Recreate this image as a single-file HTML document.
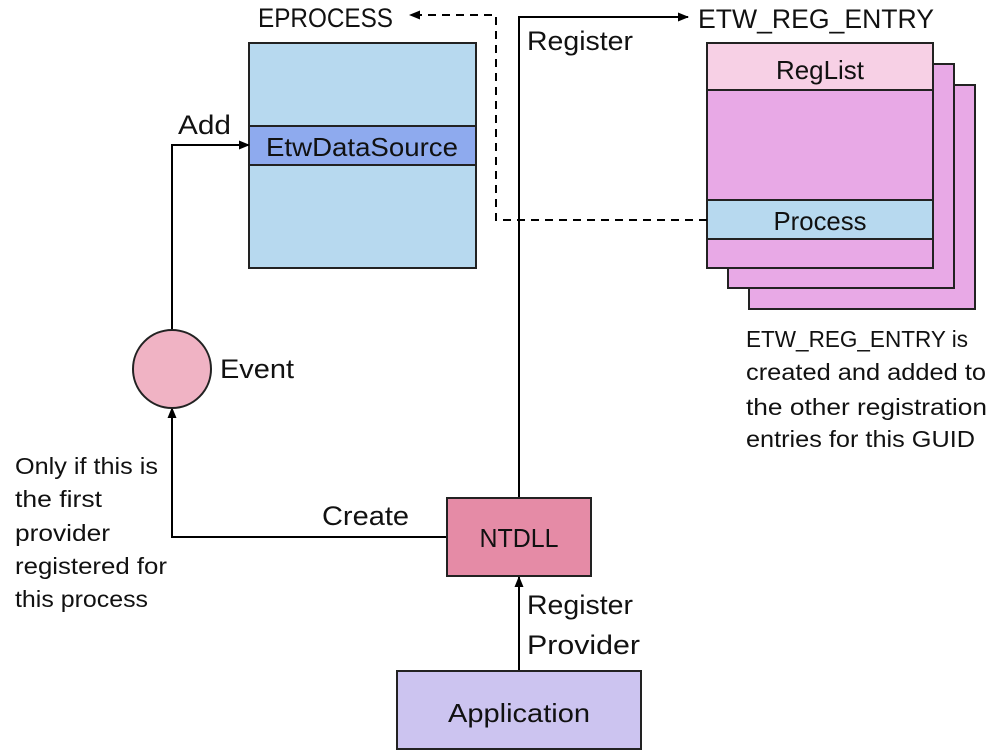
<!DOCTYPE html>
<html><head><meta charset="utf-8"><style>
html,body{margin:0;padding:0;background:#fff;}
svg{display:block;}
text{font-family:"Liberation Sans",sans-serif;fill:#111;}
</style></head><body>
<svg width="1002" height="753" viewBox="0 0 1002 753" xmlns="http://www.w3.org/2000/svg">
<defs>
<marker id="ah" markerWidth="11" markerHeight="9" refX="10" refY="4.5" orient="auto" markerUnits="userSpaceOnUse">
<path d="M0,0 L11,4.5 L0,9 z" fill="#000"/></marker>
</defs>
<rect x="749" y="85" width="226" height="224" fill="#e8a9e6" stroke="#222" stroke-width="2"/>
<rect x="728" y="64" width="226" height="224" fill="#e8a9e6" stroke="#222" stroke-width="2"/>
<rect x="707" y="43" width="226" height="225" fill="#e8a9e6" stroke="#222" stroke-width="2"/>
<rect x="707" y="43" width="226" height="47" fill="#f7d0e5" stroke="#222" stroke-width="2"/>
<rect x="707" y="200" width="226" height="39" fill="#b7d9ef" stroke="#222" stroke-width="2"/>
<text x="820" y="79" font-size="26" text-anchor="middle" textLength="88" lengthAdjust="spacingAndGlyphs">RegList</text>
<text x="820" y="230" font-size="26" text-anchor="middle" textLength="93" lengthAdjust="spacingAndGlyphs">Process</text>
<rect x="249" y="43" width="227" height="225" fill="#b7d9ef" stroke="#222" stroke-width="2"/>
<rect x="249" y="126" width="227" height="39" fill="#8eaaee" stroke="#222" stroke-width="2"/>
<text x="362" y="156" font-size="26" text-anchor="middle" textLength="192" lengthAdjust="spacingAndGlyphs">EtwDataSource</text>
<path d="M707,220 H496 V15 H410" fill="none" stroke="#000" stroke-width="2" stroke-dasharray="8,6" marker-end="url(#ah)"/>
<path d="M519,497 V17 H688" fill="none" stroke="#000" stroke-width="2" marker-end="url(#ah)"/>
<path d="M172,330 V145 H249" fill="none" stroke="#000" stroke-width="2" marker-end="url(#ah)"/>
<path d="M447,537 H172 V408" fill="none" stroke="#000" stroke-width="2" marker-end="url(#ah)"/>
<path d="M519,671 V577" fill="none" stroke="#000" stroke-width="2" marker-end="url(#ah)"/>
<circle cx="172" cy="369" r="39" fill="#f0b3c4" stroke="#222" stroke-width="2"/>
<rect x="447" y="498" width="144" height="78" fill="#e58ba6" stroke="#222" stroke-width="2"/>
<rect x="397" y="671" width="244" height="78" fill="#ccc4f0" stroke="#222" stroke-width="2"/>
<text x="519" y="547" font-size="26" text-anchor="middle" textLength="79" lengthAdjust="spacingAndGlyphs">NTDLL</text>
<text x="519" y="722" font-size="26" text-anchor="middle" textLength="142" lengthAdjust="spacingAndGlyphs">Application</text>
<text x="258" y="27" font-size="27" textLength="135" lengthAdjust="spacingAndGlyphs">EPROCESS</text>
<text x="698" y="28" font-size="27" textLength="236" lengthAdjust="spacingAndGlyphs">ETW_REG_ENTRY</text>
<text x="527" y="50" font-size="27" textLength="106" lengthAdjust="spacingAndGlyphs">Register</text>
<text x="178" y="134" font-size="27" textLength="53" lengthAdjust="spacingAndGlyphs">Add</text>
<text x="220" y="378" font-size="27" textLength="74" lengthAdjust="spacingAndGlyphs">Event</text>
<text x="322" y="525" font-size="27" textLength="87" lengthAdjust="spacingAndGlyphs">Create</text>
<text x="527" y="614" font-size="27" textLength="106" lengthAdjust="spacingAndGlyphs">Register</text>
<text x="527" y="654" font-size="27" textLength="113" lengthAdjust="spacingAndGlyphs">Provider</text>
<g font-size="23">
<text x="15" y="474" textLength="143" lengthAdjust="spacingAndGlyphs">Only if this is</text>
<text x="15" y="507" textLength="87" lengthAdjust="spacingAndGlyphs">the first</text>
<text x="15" y="541" textLength="95" lengthAdjust="spacingAndGlyphs">provider</text>
<text x="15" y="574" textLength="152" lengthAdjust="spacingAndGlyphs">registered for</text>
<text x="15" y="607" textLength="133" lengthAdjust="spacingAndGlyphs">this process</text>
</g>
<g font-size="23">
<text x="746" y="347" textLength="222" lengthAdjust="spacingAndGlyphs">ETW_REG_ENTRY is</text>
<text x="746" y="380" textLength="240" lengthAdjust="spacingAndGlyphs">created and added to</text>
<text x="746" y="415" textLength="241" lengthAdjust="spacingAndGlyphs">the other registration</text>
<text x="746" y="447" textLength="229" lengthAdjust="spacingAndGlyphs">entries for this GUID</text>
</g>
</svg>
</body></html>
